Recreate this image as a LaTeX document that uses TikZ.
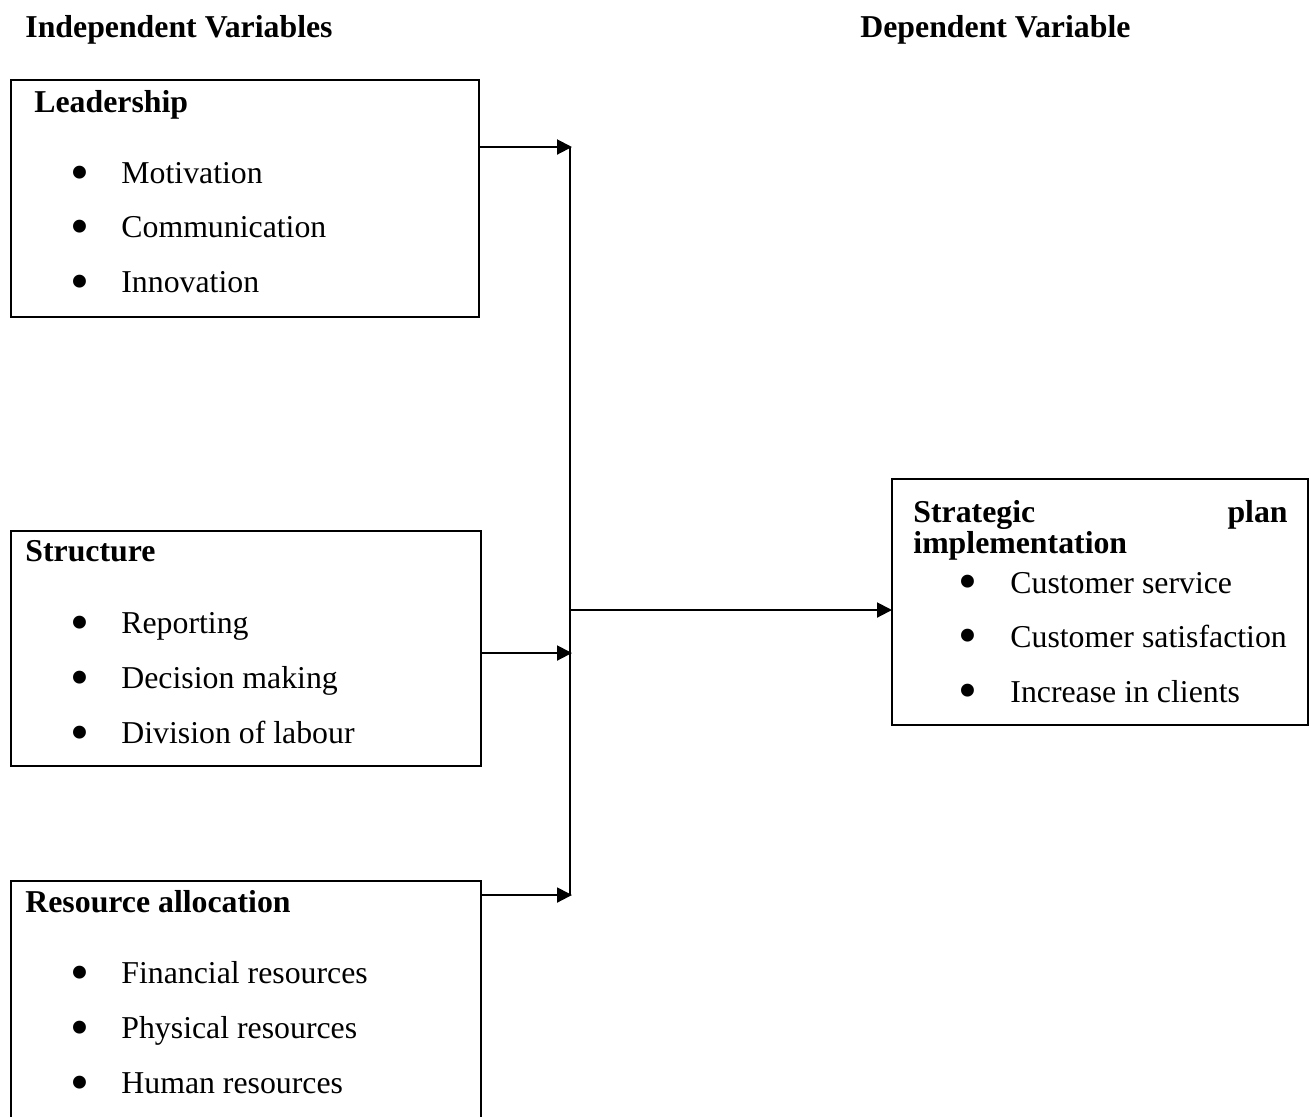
\documentclass[tikz,border=0pt]{standalone}
\usepackage{fontspec}
\setmainfont{Liberation Serif}
\usetikzlibrary{arrows.meta}

\newcommand{\fsz}{\fontsize{15.9pt}{19pt}\selectfont}

\tikzset{
  box/.style={draw, line width=1pt, inner sep=0pt, outer sep=0pt},
  head/.style={anchor=base west, inner sep=0pt, font=\fsz\bfseries},
  item/.style={anchor=base west, inner sep=0pt, font=\fsz},
  dot/.style={anchor=base, inner sep=0pt, text height=11.5pt, text depth=0pt,
    font=\fontsize{27pt}{27pt}\selectfont},
  arr/.style={-{Triangle[length=7.5pt,width=7.5pt]}, line width=1pt}
}

\begin{document}
\begin{tikzpicture}[x=0.5pt,y=-0.5pt]
    \clip (0,0) rectangle (1310,1116);
    \begin{scope}
      % headings
      \node[head] (indep) at (25,37) {Independent Variables};
      \node[head] (dep) at (860,37) {Dependent Variable};

      % boxes
      \node[box, minimum width=234pt, minimum height=118.5pt] (lead) at (245,198.5) {};
      \node[box, minimum width=235pt, minimum height=117.5pt] (struct) at (246,648.5) {};
      \node[box, minimum width=235pt, minimum height=124.5pt] (res) at (246,1005.5) {};
      \node[box, minimum width=208pt, minimum height=123pt] (strat) at (1100,602) {};

      \node[head] (leadh) at (34,112) {Leadership};
      \node[head] (structh) at (25,561) {Structure};
      \node[head] (resh) at (25,912) {Resource allocation};
      \node[head] (strath) at (913,522) {Strategic};
      \node[head, anchor=base east] (strathb) at (1288,522) {plan};
      \node[head] (strathc) at (913,553) {implementation};

      \foreach \txt [count=\i] in {Motivation, Communication, Innovation}{
        \node[dot] (leadb\i) at (80,{190+54.5*(\i-1)}) {•};
        \node[item] (leadi\i) at (121,{183+54.5*(\i-1)}) {\txt};
      }
      \foreach \txt [count=\i] in {Reporting, Decision making, Division of labour}{
        \node[dot] (structb\i) at (80,{640+55*(\i-1)}) {•};
        \node[item] (structi\i) at (121,{633+55*(\i-1)}) {\txt};
      }
      \foreach \txt [count=\i] in {Financial resources, Physical resources, Human resources}{
        \node[dot] (resb\i) at (80,{990+55*(\i-1)}) {•};
        \node[item] (resi\i) at (121,{983+55*(\i-1)}) {\txt};
      }
      \foreach \txt [count=\i] in {Customer service, Customer satisfaction, Increase in clients}{
        \node[dot] (stratb\i) at (968,{599+54.5*(\i-1)}) {•};
        \node[item] (strati\i) at (1010,{593+54.5*(\i-1)}) {\txt};
      }

      % connectors
      \coordinate (jtop) at (570,147);
      \coordinate (jmid) at (570,610);
      \coordinate (jstr) at (570,653);
      \coordinate (jbot) at (570,895);
      \draw[line width=1pt] (jtop) -- (jbot);
      \draw[arr] (lead.east |- jtop) -- ([xshift=1pt]jtop);
      \draw[arr] (struct.east |- jstr) -- ([xshift=1pt]jstr);
      \draw[arr] (res.east |- jbot) -- ([xshift=1pt]jbot);
      \draw[arr] (jmid) -- (strat.west |- jmid);
    \end{scope}
\end{tikzpicture}
\end{document}
